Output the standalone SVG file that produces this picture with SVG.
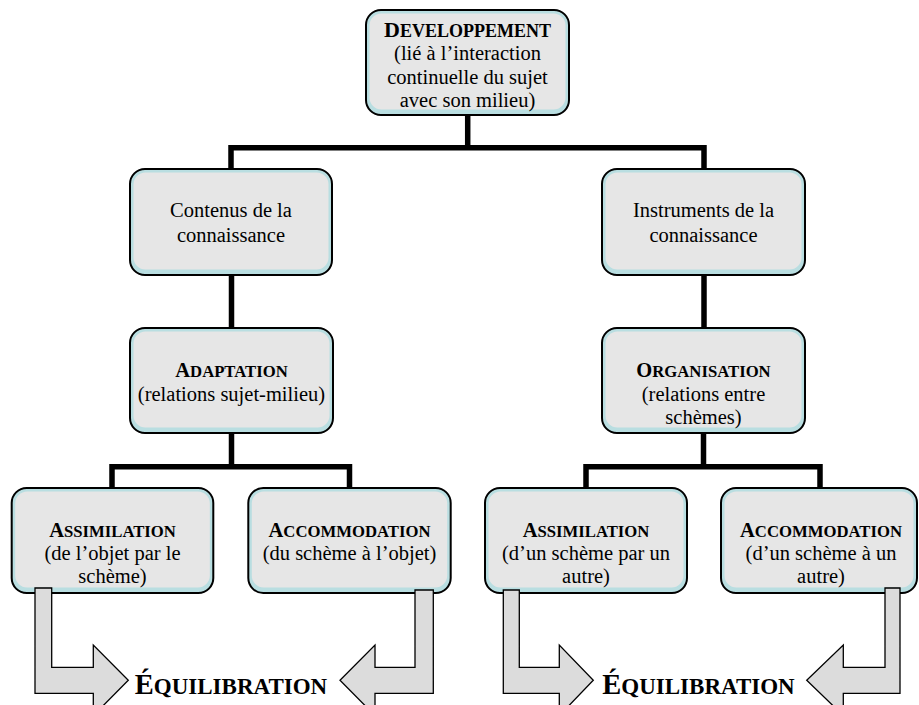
<svg xmlns="http://www.w3.org/2000/svg" width="919" height="705" viewBox="0 0 919 705">
<style>
  .outer{fill:#b9dee1;stroke:#000;stroke-width:2}
  .inner{fill:#e6e6e6}
  .t{font-size:20.5px}
  .h{font-size:16.7px;font-weight:bold}
  .c{font-size:20.5px}
  .conn{fill:none;stroke:#000;stroke-width:5.5;stroke-linejoin:miter;stroke-linecap:butt}
  .arrow{fill:#dcdcdc;stroke:#000;stroke-width:1.3;stroke-linejoin:miter}
  .eq{font-size:23px;font-weight:bold}
  .eqc{font-size:28.5px}
</style>
<rect width="919" height="705" fill="#fff"/>

<g id="connectors">
  <path class="conn" d="M467.7 115 V147.7"/>
  <path class="conn" d="M231 169 V147.7 H704 V169"/>
  <path class="conn" d="M231.5 275 V328"/>
  <path class="conn" d="M704 275 V328"/>
  <path class="conn" d="M231.5 433 V466.7"/>
  <path class="conn" d="M112 488 V466.7 H349.5 V488"/>
  <path class="conn" d="M703.5 433 V466.7"/>
  <path class="conn" d="M586 488 V466.7 H820 V488"/>
</g>

<g font-family="Liberation Serif, Times New Roman, serif" text-anchor="middle" fill="#000">
<g id="n-developpement">
  <rect class="outer" x="366" y="10" width="203" height="105" rx="15"/>
  <rect class="inner" x="369.5" y="13.5" width="196" height="96" rx="12"/>
  <text x="467.5" y="36.5" class="h" style="font-size:18px"><tspan style="font-size:22px">D</tspan>EVELOPPEMENT</text>
  <text x="467.5" y="60" class="t">(lié à l’interaction</text>
  <text x="467.5" y="83.5" class="t">continuelle du sujet</text>
  <text x="467.5" y="107" class="t">avec son milieu)</text>
</g>

<g id="n-contenus">
  <rect class="outer" x="130" y="169" width="202" height="106" rx="15"/>
  <rect class="inner" x="133.5" y="172.5" width="195" height="97" rx="12"/>
  <text x="231" y="217.3" class="t">Contenus de la</text>
  <text x="231" y="241.7" class="t">connaissance</text>
</g>

<g id="n-instruments">
  <rect class="outer" x="602" y="169" width="203" height="106" rx="15"/>
  <rect class="inner" x="605.5" y="172.5" width="196" height="97" rx="12"/>
  <text x="703.5" y="217.3" class="t">Instruments de la</text>
  <text x="703.5" y="241.7" class="t">connaissance</text>
</g>

<g id="n-adaptation">
  <rect class="outer" x="130" y="328" width="203" height="105" rx="15"/>
  <rect class="inner" x="133.5" y="331.5" width="196" height="96" rx="12"/>
  <text x="231.5" y="377.3" class="h"><tspan class="c">A</tspan>DAPTATION</text>
  <text x="231.5" y="401" class="t">(relations sujet-milieu)</text>
</g>

<g id="n-organisation">
  <rect class="outer" x="602" y="328" width="203" height="105" rx="15"/>
  <rect class="inner" x="605.5" y="331.5" width="196" height="96" rx="12"/>
  <text x="703.5" y="377.3" class="h"><tspan class="c">O</tspan>RGANISATION</text>
  <text x="703.5" y="400.7" class="t">(relations entre</text>
  <text x="703.5" y="424.3" class="t">schèmes)</text>
</g>

<g id="n-assimilation-1">
  <rect class="outer" x="11.7" y="488" width="201.6" height="105" rx="15"/>
  <rect class="inner" x="15.2" y="491.5" width="194.6" height="96" rx="12"/>
  <text x="112.5" y="536.7" class="h"><tspan class="c">A</tspan>SSIMILATION</text>
  <text x="112.5" y="560" class="t">(de l’objet par le</text>
  <text x="112.5" y="583.3" class="t">schème)</text>
</g>

<g id="n-accommodation-1">
  <rect class="outer" x="248.3" y="488" width="202.4" height="105" rx="15"/>
  <rect class="inner" x="251.8" y="491.5" width="195.4" height="96" rx="12"/>
  <text x="349.5" y="536.7" class="h"><tspan class="c">A</tspan>CCOMMODATION</text>
  <text x="349.5" y="560" class="t">(du schème à l’objet)</text>
</g>

<g id="n-assimilation-2">
  <rect class="outer" x="485" y="488" width="202" height="105" rx="15"/>
  <rect class="inner" x="488.5" y="491.5" width="195" height="96" rx="12"/>
  <text x="586" y="536.7" class="h"><tspan class="c">A</tspan>SSIMILATION</text>
  <text x="586" y="560" class="t">(d’un schème par un</text>
  <text x="586" y="583.3" class="t">autre)</text>
</g>

<g id="n-accommodation-2">
  <rect class="outer" x="721" y="488" width="196" height="105" rx="15"/>
  <rect class="inner" x="724.5" y="491.5" width="189" height="96" rx="12"/>
  <text x="821" y="536.7" class="h"><tspan class="c">A</tspan>CCOMMODATION</text>
  <text x="821" y="560" class="t">(d’un schème à un</text>
  <text x="821" y="583.3" class="t">autre)</text>
</g>

<g id="arrows">
  <path class="arrow" d="M35 588 H51.7 V667.3 H93.3 V645 L128.3 680.3 L93.3 715.6 V693.3 H35 Z"/>
  <path class="arrow" d="M433.3 590 H415 V667.3 H375 V645 L340 680.3 L375 715.6 V693.3 H433.3 Z"/>
  <path class="arrow" d="M503.3 590 H519.3 V667.3 H559.3 V645 L593.3 680.3 L559.3 715.6 V693.3 H503.3 Z"/>
  <path class="arrow" d="M900 588 H885 V667.3 H843.3 V645 L806.7 680.3 L843.3 715.6 V693.3 H900 Z"/>
</g>

<g id="n-equilibration-1">
  <text x="231" y="694.3" class="eq"><tspan class="eqc">É</tspan>QUILIBRATION</text>
</g>
<g id="n-equilibration-2">
  <text x="698.5" y="694.3" class="eq"><tspan class="eqc">É</tspan>QUILIBRATION</text>
</g>
</g>
</svg>
